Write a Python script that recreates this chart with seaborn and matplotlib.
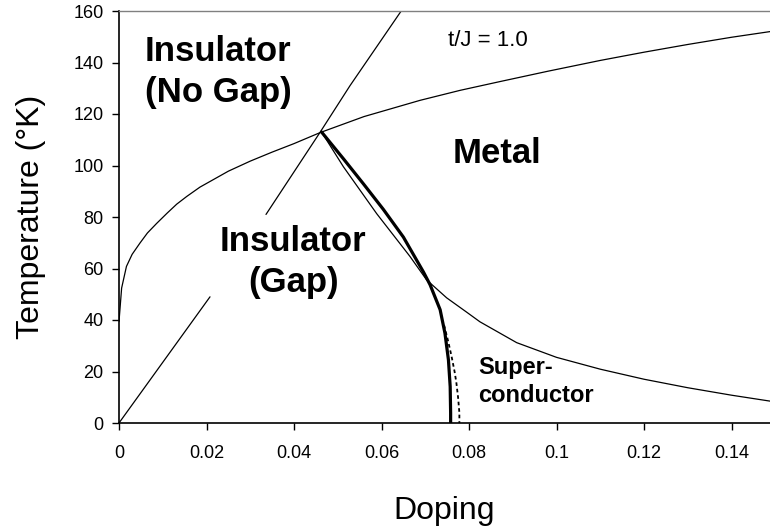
import matplotlib
matplotlib.use("Agg")
import matplotlib.pyplot as plt
import seaborn as sns
import pandas as pd

# ---- data ----
upper_x = [0, 0.0006, 0.0017, 0.003, 0.0048, 0.0065, 0.0086, 0.011, 0.0132, 0.0155,
           0.0185, 0.025, 0.03, 0.035, 0.04, 0.046, 0.056, 0.0688, 0.078, 0.0871,
           0.098, 0.11, 0.12, 0.13, 0.14, 0.1488]
upper_T = [39.4, 52.4, 60.8, 65.5, 69.9, 73.8, 77.5, 81.5, 85, 88,
           91.6, 97.8, 101.7, 105.2, 108.5, 112.8, 119, 125.3, 129.2, 132.6,
           136.6, 140.8, 144, 147, 149.8, 152]

mott_lo_x = [0, 0.0208]
mott_lo_T = [0, 49]
mott_hi_x = [0.0336, 0.046, 0.0528, 0.0645]
mott_hi_T = [81, 113, 131, 160]

thin_x = [0.0463, 0.0513, 0.0589, 0.0665, 0.0703, 0.0749, 0.0795, 0.0825, 0.0909,
          0.1, 0.11, 0.12, 0.13, 0.14, 0.1488]
thin_T = [113, 99.5, 81.3, 64.7, 55.6, 48.6, 43.0, 39.3, 31.2,
          25.5, 20.9, 17, 13.7, 10.8, 8.5]

sc_x = [0.0463, 0.0513, 0.0559, 0.0604, 0.065, 0.0696, 0.0711, 0.0734, 0.0745,
        0.0753, 0.0757, 0.0758, 0.0758]
sc_T = [113, 102.6, 92.8, 83.0, 72.2, 58.6, 53.7, 44, 34.9, 24.5, 14.1, 3.9, 0]

dot_x = [0.0743, 0.0752, 0.076, 0.0767, 0.0771, 0.0775, 0.0778, 0.0778]
dot_T = [38, 32, 26, 20, 15.8, 10, 4, 0]

x_ticks = [0, 0.02, 0.04, 0.06, 0.08, 0.1, 0.12, 0.14]
x_tick_labels = ["0", "0.02", "0.04", "0.06", "0.08", "0.1", "0.12", "0.14"]
y_ticks = [0, 20, 40, 60, 80, 100, 120, 140, 160]

sns.set_theme(style="white")
plt.rcParams['font.family'] = ['Liberation Sans', 'DejaVu Sans']
plt.rcParams['text.color'] = 'black'
plt.rcParams['axes.labelcolor'] = 'black'

fig = plt.figure(figsize=(7.7, 5.27), dpi=100)
ax = fig.add_axes([119 / 770, 1 - 423 / 527, 651 / 770, 412 / 527])

def draw(xs, ts, **kw):
    df = pd.DataFrame({"x": xs, "T": ts})
    sns.lineplot(data=df, x="x", y="T", ax=ax, sort=False, estimator=None,
                 color="black", **kw)

draw(upper_x, upper_T, linewidth=0.9)
draw(mott_lo_x, mott_lo_T, linewidth=0.9)
draw(mott_hi_x, mott_hi_T, linewidth=0.9)
draw(thin_x, thin_T, linewidth=0.9)
draw(sc_x, sc_T, linewidth=2.3)
draw(dot_x, dot_T, linewidth=1.3, linestyle=(0, (2, 1.6)))

ax.set_xlim(0, 0.1488)
ax.set_ylim(0, 160)
ax.set_xticks(x_ticks)
ax.set_xticklabels(x_tick_labels)
ax.set_yticks(y_ticks)
ax.tick_params(axis="both", which="major", direction="out", length=5, width=1,
               color="black", labelsize=13, labelcolor="black", pad=6,
               bottom=True, left=True)
ax.tick_params(axis="x", pad=11)

for s in ["left", "bottom"]:
    ax.spines[s].set_color("black")
    ax.spines[s].set_linewidth(1.2)
ax.spines["top"].set_color("#808080")
ax.spines["top"].set_linewidth(1.0)
ax.spines["right"].set_visible(False)

ax.set_xlabel("Doping", fontsize=23, labelpad=24, color="black")
ax.set_ylabel("Temperature (\u00b0K)", fontsize=23, labelpad=20, color="black")

ax.text(0.0059, 150.6, "Insulator\n(No Gap)", fontsize=25, fontweight="bold",
        ha="left", va="top", linespacing=1.3, color="black")
ax.text(0.0398, 77, "Insulator\n(Gap)", fontsize=25, fontweight="bold",
        ha="center", va="top", multialignment="center", linespacing=1.3, color="black")
ax.text(0.0763, 110.9, "Metal", fontsize=25, fontweight="bold", ha="left", va="top",
        color="black")
ax.text(0.0821, 26.1, "Super-\nconductor", fontsize=17, fontweight="bold",
        ha="left", va="top", linespacing=1.27, color="black")
ax.text(0.0752, 152.5, "t/J = 1.0", fontsize=16, ha="left", va="top", color="black")

fig.savefig("out.png", dpi=100)
